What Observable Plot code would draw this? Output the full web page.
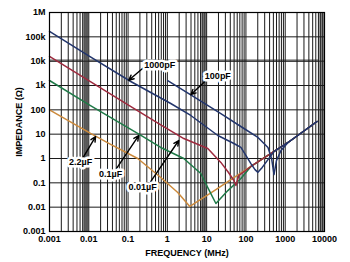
<!DOCTYPE html>
<html><head><meta charset="utf-8">
<script src="https://cdn.jsdelivr.net/npm/d3@7"></script>
<script src="https://cdn.jsdelivr.net/npm/@observablehq/plot@0.6"></script>
<style>html,body{margin:0;padding:0;background:#fff;}</style>
</head><body><div id="chart"></div>
<script>
// Axis ticks
const xDecades = [0.001, 0.01, 0.1, 1, 10, 100, 1000, 10000];
const xTickLabels = ["0.001", "0.01", "0.1", "1", "10", "100", "1000", "10000"];
const yDecades = [0.001, 0.01, 0.1, 1, 10, 100, 1000, 10000, 100000, 1000000];
const yTickLabels = ["0.001", "0.01", "0.1", "1", "10", "100", "1k", "10k", "100k", "1M"];

// Series (frequency MHz, impedance ohms)
const c2u2F = [0.001, 0.0111, 0.036, 0.176, 0.679, 1.84, 3.73, 7.1, 17.2, 41.4, 134, 434, 1178, 6470];
const c2u2Z = [100, 10.7, 3.8, 1.0, 0.166, 0.040, 0.0107, 0.0207, 0.053, 0.137, 0.47, 1.61, 4.55, 33.2];

const c0u1F = [0.001, 0.01, 0.198, 0.679, 2.62, 7.1, 10.7, 17.2, 34.7, 74.5, 134, 434, 1178, 6470];
const c0u1Z = [1607, 165, 9.5, 2.84, 1.0, 0.242, 0.064, 0.0141, 0.048, 0.15, 0.47, 1.61, 4.55, 33.2];

const c0u01F = [0.001, 0.01, 0.1, 0.679, 2.62, 10.7, 23, 36, 49.4, 55.6, 66, 134, 434, 1178, 6470];
const c0u01Z = [15600, 1600, 160, 24, 6.6, 2.58, 0.69, 0.266, 0.125, 0.078, 0.2, 0.47, 1.61, 4.55, 33.2];

const c1000pF_F = [0.001, 0.01, 0.117, 1.22, 3.95, 19.3, 49.4, 74.5, 134, 170, 202, 260, 364, 520, 1178, 6470];
const c1000pF_Z = [166000, 16500, 1460, 182, 58.6, 8.8, 4.14, 2.84, 0.62, 0.35, 0.27, 0.43, 0.9, 1.94, 4.55, 33.2];

const c100pF_F = [1.02, 3.95, 23, 89, 202, 288, 364, 450, 518, 600, 781, 1178, 6470];
const c100pF_Z = [1600, 410, 70, 17.1, 7.3, 4.14, 2.84, 1.0, 0.22, 0.83, 2.13, 4.55, 33.2];

const seriesNames = ["2.2µF", "0.1µF", "0.01µF", "1000pF", "100pF"];
const seriesColors = ["#cc8a3c", "#1f7a48", "#9e2a3e", "#22356c", "#22356c"];
const seriesF = [c2u2F, c0u1F, c0u01F, c1000pF_F, c100pF_F];
const seriesZ = [c2u2Z, c0u1Z, c0u01Z, c1000pF_Z, c100pF_Z];

// Annotation labels and arrows (data coordinates)
const labelText = ["1000pF", "100pF", "2.2µF", "0.1µF", "0.01µF"];
const labelF = [0.64, 19.3, 0.0062, 0.036, 0.235];
const labelZ = [6650, 2350, 0.69, 0.22, 0.064];
const arrowFromF = [0.25, 9.0, 0.0074, 0.051, 0.38];
const arrowFromZ = [5500, 1460, 1.2, 0.39, 0.114];
const arrowToF = [0.104, 3.95, 0.0149, 0.186, 1.95];
const arrowToZ = [1650, 420, 8.0, 8.8, 5.5];

// Gray grid bands seen in the reference
const bandX1 = [0.0072, 7.2, 7200];
const bandX2 = [0.0101, 10.1, 10100];
const bandY1 = [8800];
const bandY2 = [11500];

const rows = [];
seriesNames.forEach((n, s) => seriesF[s].forEach((f, i) => rows.push({cap: n, f, z: seriesZ[s][i]})));
const labels = labelText.map((t, i) => ({t, f: labelF[i], z: labelZ[i]}));
const arrows = labelText.map((t, i) => ({x1: arrowFromF[i], y1: arrowFromZ[i], x2: arrowToF[i], y2: arrowToZ[i]}));
const vBands = bandX1.map((a, i) => ({x1: a, x2: bandX2[i]}));
const hBands = bandY1.map((a, i) => ({y1: a, y2: bandY2[i]}));

const minorX = [];
xDecades.slice(0, -1).forEach(d => { for (let k = 1; k <= 9; k++) minorX.push(d * k); });
minorX.push(xDecades[xDecades.length - 1]);

const xLab = new Map(xDecades.map((d, i) => [Math.round(Math.log10(d)), xTickLabels[i]]));
const yLab = new Map(yDecades.map((d, i) => [Math.round(Math.log10(d)), yTickLabels[i]]));

const chart = Plot.plot({
  width: 350, height: 262,
  marginTop: 12, marginBottom: 31, marginLeft: 49, marginRight: 26,
  style: {fontFamily: "'Liberation Sans', Arial, sans-serif", fontSize: "9px", fontWeight: "bold", background: "#fff", color: "#000"},
  x: {type: "log", domain: [0.001, 10000], ticks: xDecades, tickFormat: d => xLab.get(Math.round(Math.log10(d))) ?? "",
      tickSize: 0, tickPadding: 4, label: "FREQUENCY (MHz)", labelAnchor: "center", labelOffset: 24, labelArrow: "none"},
  y: {type: "log", domain: [0.001, 1000000], ticks: yDecades, tickFormat: d => yLab.get(Math.round(Math.log10(d))) ?? "",
      tickSize: 0, tickPadding: 4, label: "IMPEDANCE (Ω)", labelAnchor: "center", labelOffset: 34, labelArrow: "none"},
  color: {domain: seriesNames, range: seriesColors},
  marks: [
    Plot.rect(vBands, {x1: "x1", x2: "x2", fill: "#9a9a9a"}),
    Plot.rect(hBands, {y1: "y1", y2: "y2", fill: "#9a9a9a"}),
    Plot.ruleX(minorX, {stroke: "#1a1a1a", strokeWidth: 1}),
    Plot.ruleY(yDecades, {stroke: "#1a1a1a", strokeWidth: 1}),
    Plot.line(rows, {x: "f", y: "z", z: "cap", stroke: "cap", strokeWidth: 1.5}),
    Plot.arrow(arrows, {x1: "x1", y1: "y1", x2: "x2", y2: "y2", stroke: "#000", strokeWidth: 1.4, headLength: 6, headAngle: 50, insetEnd: 0}),
    Plot.text(labels, {x: "f", y: "z", text: "t", fill: "#000", stroke: "#fff", strokeWidth: 5, paintOrder: "stroke", fontSize: 9, fontWeight: "bold"}),
    Plot.frame({stroke: "#000", strokeWidth: 1.2})
  ]
});
document.getElementById("chart").appendChild(chart);
</script>
</body></html>
